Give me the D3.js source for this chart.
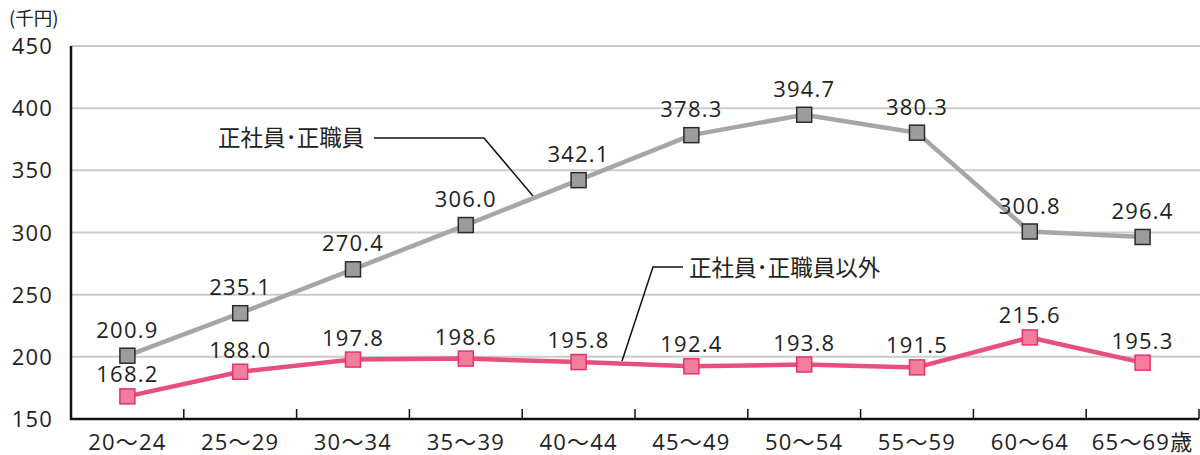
<!DOCTYPE html>
<html>
<head>
<meta charset="utf-8">
<script src="https://cdn.jsdelivr.net/npm/d3@7"></script>
<style>
  body { margin: 0; background: #fff; }
  svg { display: block; font-family: "Open Sans", "Noto Sans CJK JP", sans-serif; }
  .num { letter-spacing: 1.2px; }
  .jp { font-family: "Noto Sans CJK JP", sans-serif; }
</style>
</head>
<body>
<svg id="chart" width="1200" height="455"></svg>
<script>
// categories (age groups)
const ageGroups = ['20～24', '25～29', '30～34', '35～39', '40～44', '45～49', '50～54', '55～59', '60～64', '65～69歳']
// 正社員・正職員
const regularValues = [200.9, 235.1, 270.4, 306.0, 342.1, 378.3, 394.7, 380.3, 300.8, 296.4]
// 正社員・正職員以外
const nonRegularValues = [168.2, 188.0, 197.8, 198.6, 195.8, 192.4, 193.8, 191.5, 215.6, 195.3]
const yTicks = [150, 200, 250, 300, 350, 400, 450]
const unitLabel = '(千円)'
const regularName = '正社員･正職員'
const nonRegularName = '正社員･正職員以外'

const svg = d3.select('#chart')
const margin = { top: 46, right: 1, bottom: 36, left: 71 }
const width = 1200
const height = 455
const innerW = width - margin.left - margin.right
const innerH = height - margin.top - margin.bottom

const g = svg.append('g')
  .attr('transform', 'translate(' + margin.left + ',' + margin.top + ')')

const x = d3.scaleBand().domain(ageGroups).range([0, innerW])
const y = d3.scaleLinear().domain([150, 450]).range([innerH, 0])

// grid lines
g.selectAll('.grid')
  .data(yTicks.slice(1))
  .enter()
  .append('line')
  .attr('x1', 0)
  .attr('x2', innerW + margin.right)
  .attr('y1', d => y(d))
  .attr('y2', d => y(d))
  .attr('stroke', '#cccccc')
  .attr('stroke-width', 2)

// y axis labels
g.selectAll('.ylab')
  .data(yTicks)
  .enter()
  .append('text')
  .attr('class', 'num')
  .attr('x', -18)
  .attr('y', d => y(d) + 8)
  .attr('text-anchor', 'end')
  .attr('font-size', 22)
  .attr('fill', '#222')
  .text(d => d)

svg.append('text')
  .attr('class', 'jp')
  .attr('x', 9)
  .attr('y', 25)
  .attr('font-size', 18.5)
  .attr('fill', '#222')
  .text(unitLabel)

// x axis, ticks point up into the plot
const xAxis = g.append('g')
  .attr('transform', 'translate(0,' + innerH + ')')
xAxis.selectAll('.tick')
  .data(ageGroups.slice(1).concat(['end']))
  .enter()
  .append('line')
  .attr('x1', (d, i) => x.step() * (i + 1))
  .attr('x2', (d, i) => x.step() * (i + 1))
  .attr('y1', 0)
  .attr('y2', -10)
  .attr('stroke', '#111')
  .attr('stroke-width', 1.5)
xAxis.selectAll('.xlab')
  .data(ageGroups)
  .enter()
  .append('text')
  .attr('class', 'num')
  .attr('x', d => x(d) + x.bandwidth() / 2)
  .attr('y', 31)
  .attr('text-anchor', 'middle')
  .attr('font-size', 22)
  .attr('fill', '#222')
  .text(d => d)
xAxis.append('line')
  .attr('x1', -1).attr('x2', innerW)
  .attr('y1', 0).attr('y2', 0)
  .attr('stroke', '#111').attr('stroke-width', 2.5)

// y axis line
g.append('line')
  .attr('x1', 0).attr('x2', 0)
  .attr('y1', 0).attr('y2', innerH + 1)
  .attr('stroke', '#111').attr('stroke-width', 2.5)

const cx = i => x(ageGroups[i]) + x.bandwidth() / 2

function drawSeries(values, lineColor, fill, stroke, labelDy) {
  const line = d3.line()
    .x((d, i) => cx(i))
    .y(d => y(d))
  g.append('path')
    .datum(values)
    .attr('d', line)
    .attr('fill', 'none')
    .attr('stroke', lineColor)
    .attr('stroke-width', 4.5)
    .attr('stroke-linejoin', 'round')

  g.selectAll(null)
    .data(values)
    .enter()
    .append('rect')
    .attr('x', (d, i) => cx(i) - 7.5)
    .attr('y', d => y(d) - 7.5)
    .attr('width', 15)
    .attr('height', 15)
    .attr('fill', fill)
    .attr('stroke', stroke)
    .attr('stroke-width', 1.5)

  g.selectAll(null)
    .data(values)
    .enter()
    .append('text')
    .attr('class', 'num')
    .attr('x', (d, i) => cx(i))
    .attr('y', d => y(d) + labelDy)
    .attr('text-anchor', 'middle')
    .attr('font-size', 22)
    .attr('fill', '#222')
    .text(d => d.toFixed(1))
}

// leader lines for the series names
g.append('polyline')
  .attr('points', [[374 - margin.left, 138 - margin.top], [484 - margin.left, 138 - margin.top], [533 - margin.left, 196 - margin.top]].join(' '))
  .attr('fill', 'none').attr('stroke', '#111').attr('stroke-width', 1.5)
g.append('polyline')
  .attr('points', [[683 - margin.left, 267 - margin.top], [653 - margin.left, 267 - margin.top], [622 - margin.left, 361 - margin.top]].join(' '))
  .attr('fill', 'none').attr('stroke', '#111').attr('stroke-width', 1.5)

drawSeries(regularValues, '#a6a6a6', '#9c9c9c', '#2b2b2b', -18)
drawSeries(nonRegularValues, '#e8507c', '#f27e9e', '#e6336b', -14)

svg.append('text')
  .attr('class', 'jp')
  .attr('x', 218).attr('y', 146)
  .attr('font-size', 22.5).attr('fill', '#222')
  .text(regularName)
svg.append('text')
  .attr('class', 'jp')
  .attr('x', 689).attr('y', 276)
  .attr('font-size', 22.5).attr('fill', '#222')
  .text(nonRegularName)
</script>
</body>
</html>
